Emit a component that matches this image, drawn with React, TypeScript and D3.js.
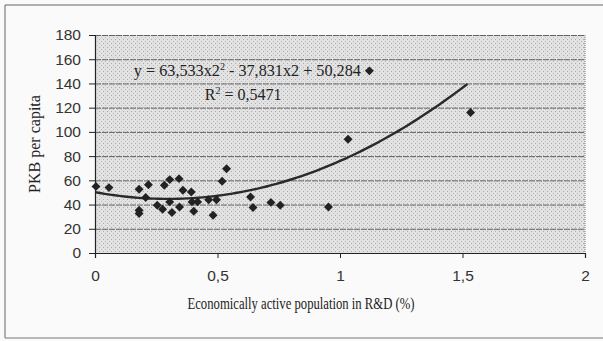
import { useRef, useEffect } from 'react';
import * as d3 from 'd3';

// economically active population in R&D (%) vs PKB per capita
const shareRD = [
  0.004, 0.057, 0.18, 0.18, 0.18, 0.207, 0.218, 0.254, 0.276, 0.283, 0.305, 0.305,
  0.314, 0.343, 0.345, 0.359, 0.393, 0.396, 0.403, 0.419, 0.464, 0.482, 0.496,
  0.519, 0.537, 0.635, 0.645, 0.718, 0.756, 0.953, 1.033, 1.12, 1.533,
];
const pkb = [
  55, 54, 52.6, 35.3, 32.6, 45.8, 56.4, 39.4, 36.2, 55.9, 60.6, 42.2,
  33.4, 61.4, 38, 51.8, 50.4, 42.2, 34.5, 42.2, 44, 31.2, 44,
  59.2, 69.6, 46.3, 37.6, 41.8, 39.4, 38, 94, 150.4, 116,
];
const yTicks = [0, 20, 40, 60, 80, 100, 120, 140, 160, 180];
const xTicks = [0, 0.5, 1, 1.5, 2];
const coef = [63.533, -37.831, 50.284]; // trend: a*x^2 + b*x + c
const trendEnd = 1.52;

export default function App() {
  const svgRef = useRef<SVGSVGElement>(null);

  useEffect(() => {
    if (!svgRef.current) return;
    const svg = d3.select(svgRef.current);
    svg.selectAll('*').remove();

    const width = 603;
    const height = 341;
    const margin = { top: 35, right: 18, bottom: 88, left: 95 };
    const innerW = width - margin.left - margin.right;
    const innerH = height - margin.top - margin.bottom;
    const serif = 'Liberation Serif, Times New Roman, serif';
    const sans = 'Liberation Sans, Arial, sans-serif';

    svg.attr('viewBox', `0 0 ${width} ${height}`);

    // scanned paper background + outer frame
    svg.append('rect').attr('width', width).attr('height', height).attr('fill', '#fafafa');
    svg.append('path')
      .attr('d', `M5,${height - 3} V5 H${width}`)
      .attr('fill', 'none').attr('stroke', '#666').attr('stroke-width', 1);
    svg.append('line')
      .attr('x1', 5).attr('x2', width).attr('y1', height - 3).attr('y2', height - 3)
      .attr('stroke', '#777').attr('stroke-width', 1);

    const x = d3.scaleLinear().domain([0, 2]).range([0, innerW]);
    const y = d3.scaleLinear().domain([0, 180]).range([innerH, 0]);

    const g = svg.append('g').attr('transform', `translate(${margin.left},${margin.top})`);

    // stippled plot area
    const defs = svg.append('defs');
    const pat = defs.append('pattern').attr('id', 'stip').attr('width', 4).attr('height', 4)
      .attr('patternUnits', 'userSpaceOnUse');
    pat.append('rect').attr('width', 4).attr('height', 4).attr('fill', '#e2e2e2');
    pat.append('rect').attr('x', 0).attr('y', 0).attr('width', 1).attr('height', 1).attr('fill', '#ababab');
    pat.append('rect').attr('x', 2).attr('y', 2).attr('width', 1).attr('height', 1).attr('fill', '#bdbdbd');

    g.append('rect')
      .attr('width', innerW).attr('height', innerH)
      .attr('fill', 'url(#stip)');
    // right border, dotted
    g.append('line')
      .attr('x1', innerW).attr('x2', innerW).attr('y1', 0).attr('y2', innerH)
      .attr('stroke', '#777').attr('stroke-dasharray', '1,1');

    // grid
    g.append('g')
      .call(d3.axisLeft(y).tickValues(yTicks.slice(1)).tickSize(-innerW).tickFormat(() => ''))
      .call((a) => {
        a.select('.domain').remove();
        a.selectAll('line').attr('stroke', '#555').attr('stroke-width', 0.9).attr('stroke-dasharray', '6,1');
      });

    // axes
    g.append('g')
      .attr('transform', `translate(0,${innerH})`)
      .call(d3.axisBottom(x).tickValues(xTicks).tickSize(5).tickPadding(12)
        .tickFormat((d) => String(d).replace('.', ',')))
      .call((a) => {
        a.select('.domain').attr('stroke', '#222').attr('stroke-width', 1.2);
        a.selectAll('line').attr('stroke', '#222');
        a.selectAll('text').attr('fill', '#333').style('font-family', sans).style('font-size', '15.5px');
      });
    g.append('g')
      .call(d3.axisLeft(y).tickValues(yTicks).tickSize(6).tickPadding(8))
      .call((a) => {
        a.select('.domain').attr('stroke', '#222').attr('stroke-width', 1.2);
        a.selectAll('line').attr('stroke', '#222');
        a.selectAll('text').attr('fill', '#333').style('font-family', sans).style('font-size', '15.5px');
      });

    // trend line
    const trendX = d3.range(0, trendEnd + 0.0001, 0.02);
    const line = d3.line<number>()
      .x((d) => x(d))
      .y((d) => y(coef[0] * d * d + coef[1] * d + coef[2]));
    g.append('path')
      .datum(trendX)
      .attr('d', line)
      .attr('fill', 'none')
      .attr('stroke', '#2a2a2a')
      .attr('stroke-width', 2.4);

    // points (square rotated 45deg = Excel diamond)
    const diamond = d3.symbol().type(d3.symbolSquare).size(40);
    g.append('g')
      .selectAll('path')
      .data(shareRD.map((v, i) => [v, pkb[i]]))
      .join('path')
      .attr('transform', (d) => `translate(${x(d[0])},${y(d[1])}) rotate(45)`)
      .attr('d', diamond)
      .attr('fill', '#222');

    // equation
    const eq = g.append('text')
      .attr('x', x(0.622)).attr('y', y(146))
      .attr('text-anchor', 'middle')
      .attr('fill', '#222')
      .attr('textLength', 227)
      .attr('lengthAdjust', 'spacingAndGlyphs')
      .style('font-family', serif)
      .style('font-size', '16px');
    eq.append('tspan').text('y = 63,533x2');
    eq.append('tspan').attr('dy', -6).style('font-size', '10px').text('2');
    eq.append('tspan').attr('dy', 6).text(' - 37,831x2 + 50,284');

    const r2 = g.append('text')
      .attr('x', x(0.605)).attr('y', y(126.5))
      .attr('text-anchor', 'middle')
      .attr('fill', '#222')
      .style('font-family', serif)
      .style('font-size', '16px');
    r2.append('tspan').text('R');
    r2.append('tspan').attr('dy', -6).style('font-size', '10px').text('2');
    r2.append('tspan').attr('dy', 6).text(' = 0,5471');

    // axis titles
    svg.append('text')
      .attr('x', 301).attr('y', 309)
      .attr('text-anchor', 'middle')
      .attr('fill', '#222')
      .attr('textLength', 227)
      .attr('lengthAdjust', 'spacingAndGlyphs')
      .style('font-family', serif)
      .style('font-size', '16px')
      .text('Economically active population in R&D (%)');
    svg.append('text')
      .attr('transform', `translate(40, 144) rotate(-90)`)
      .attr('text-anchor', 'middle')
      .attr('fill', '#222')
      .style('font-family', serif)
      .style('font-size', '16px')
      .text('PKB per capita');
  }, []);

  return (
    <svg
      ref={svgRef}
      width={603}
      height={341}
      style={{ position: 'absolute', left: 0, top: 0, display: 'block' }}
    />
  );
}
